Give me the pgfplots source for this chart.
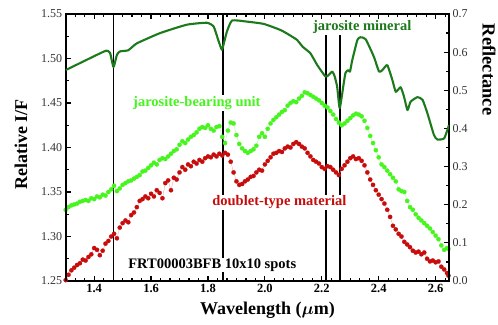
\documentclass[border=0pt]{standalone}
\usepackage{fontspec}
\setmainfont{Liberation Serif}
\usepackage{pgfplots}
\pgfplotsset{compat=1.18}
\definecolor{dkgreen}{RGB}{28,122,28}
\definecolor{ltgreen}{RGB}{70,245,30}
\definecolor{dred}{RGB}{200,12,12}
\begin{document}
\begin{tikzpicture}
\useasboundingbox (-65.7pt,-43pt) rectangle (432.3pt,281pt);
\begin{axis}[
  at={(0,0)}, anchor=south west,
  scale only axis, width=383.3pt, height=267pt,
  xmin=1.3, xmax=2.647, ymin=1.25, ymax=1.55,
  xtick={1.4,1.6,...,2.61},
  minor xtick={1.3333333,1.3666667,1.4333333,1.4666667,1.5,1.5333333,1.5666667,1.6333333,1.6666667,1.7,1.7333333,1.7666667,1.8333333,1.8666667,1.9,1.9333333,1.9666667,2.0333333,2.0666667,2.1,2.1333333,2.1666667,2.2333333,2.2666667,2.3,2.3333333,2.3666667,2.4333333,2.4666667,2.5,2.5333333,2.5666667,2.6333333},
  ytick={1.25,1.30,1.35,1.40,1.45,1.50,1.55},
  minor ytick={1.275,1.325,1.375,1.425,1.475,1.525},
  ytick pos=left, xtick pos=both,
  tick align=inside,
  major tick length=5pt, minor tick length=3.5pt,
  every tick/.style={black, line width=1.2pt},
  axis line style={line width=1.7pt},
  /pgf/number format/assume math mode=true,
  xticklabel style={font=\fontsize{12.5}{12.5}\selectfont\bfseries, /pgf/number format/.cd, fixed, fixed zerofill, precision=1},
  yticklabel style={font=\fontsize{12}{12}\selectfont, text=black!80, /pgf/number format/.cd, fixed, fixed zerofill, precision=2},
  clip=false,
]
% vertical band lines
\addplot[black, line width=1.8pt] coordinates {(1.468,1.25) (1.468,1.55)};
\addplot[black, line width=1.8pt] coordinates {(1.853,1.25) (1.853,1.55)};
\addplot[black, line width=1.8pt] coordinates {(2.214,1.25) (2.214,1.526)};
\addplot[black, line width=1.8pt] coordinates {(2.263,1.25) (2.263,1.526)};
% jarosite-bearing unit
\addplot[draw=ltgreen!45, line width=0.4pt, mark=*, mark size=2.15pt, mark options={draw=ltgreen, fill=ltgreen, line width=0.2pt}] coordinates {
(1.30,1.330) (1.31,1.333) (1.32,1.335) (1.33,1.336) (1.34,1.337) (1.35,1.339) (1.36,1.340) (1.37,1.341) (1.38,1.340) (1.39,1.343)
(1.40,1.342) (1.41,1.345) (1.42,1.344) (1.43,1.347) (1.44,1.346) (1.45,1.350) (1.46,1.353) (1.47,1.357) (1.48,1.351) (1.49,1.354)
(1.50,1.358) (1.51,1.360) (1.52,1.362) (1.53,1.363) (1.54,1.365) (1.55,1.367) (1.56,1.369) (1.57,1.373) (1.58,1.374) (1.59,1.377)
(1.60,1.380) (1.61,1.383) (1.62,1.381) (1.63,1.386) (1.64,1.388) (1.65,1.387) (1.66,1.390) (1.67,1.393) (1.68,1.396) (1.69,1.398)
(1.70,1.403) (1.71,1.407) (1.72,1.405) (1.73,1.409) (1.74,1.412) (1.75,1.414) (1.76,1.417) (1.77,1.421) (1.78,1.423) (1.79,1.422)
(1.80,1.425) (1.81,1.421) (1.82,1.419) (1.83,1.423) (1.84,1.424) (1.85,1.412) (1.86,1.405) (1.87,1.419) (1.88,1.428) (1.89,1.427)
(1.90,1.414) (1.91,1.404) (1.92,1.399) (1.93,1.396) (1.94,1.394) (1.95,1.396) (1.96,1.398) (1.97,1.402) (1.98,1.412) (1.99,1.416)
(2.00,1.412) (2.01,1.421) (2.02,1.427) (2.03,1.431) (2.04,1.434) (2.05,1.437) (2.06,1.440) (2.07,1.442) (2.08,1.447) (2.09,1.450)
(2.10,1.452) (2.11,1.451) (2.12,1.455) (2.13,1.458) (2.14,1.462) (2.15,1.461) (2.16,1.459) (2.17,1.457) (2.18,1.455) (2.19,1.453)
(2.20,1.450) (2.21,1.447) (2.22,1.445) (2.23,1.441) (2.24,1.437) (2.25,1.432) (2.26,1.428) (2.27,1.425) (2.28,1.427) (2.29,1.430)
(2.30,1.433) (2.31,1.436) (2.32,1.438) (2.33,1.437) (2.34,1.435) (2.35,1.430) (2.36,1.422) (2.37,1.413) (2.38,1.405) (2.39,1.397)
(2.40,1.389) (2.41,1.381) (2.42,1.378) (2.43,1.374) (2.44,1.370) (2.45,1.366) (2.46,1.362) (2.47,1.353) (2.48,1.351) (2.49,1.350)
(2.50,1.340) (2.51,1.333) (2.52,1.330) (2.53,1.325) (2.54,1.321) (2.55,1.318) (2.56,1.315) (2.57,1.312) (2.58,1.309) (2.59,1.305)
(2.60,1.301) (2.61,1.297) (2.62,1.290) (2.63,1.285) (2.64,1.287) (2.645,1.286)
};
% doublet-type material
\addplot[draw=dred!35, line width=0.4pt, mark=*, mark size=2.15pt, mark options={draw=dred, fill=dred, line width=0.2pt}] coordinates {
(1.30,1.251) (1.31,1.257) (1.32,1.262) (1.33,1.265) (1.34,1.268) (1.35,1.270) (1.36,1.274) (1.37,1.273) (1.38,1.277) (1.39,1.280)
(1.40,1.287) (1.41,1.285) (1.42,1.279) (1.43,1.284) (1.44,1.292) (1.45,1.295) (1.46,1.300) (1.47,1.303) (1.48,1.298) (1.49,1.310)
(1.50,1.315) (1.51,1.318) (1.52,1.316) (1.53,1.324) (1.54,1.327) (1.55,1.333) (1.56,1.340) (1.57,1.342) (1.58,1.345) (1.59,1.343)
(1.60,1.348) (1.61,1.345) (1.62,1.352) (1.63,1.349) (1.64,1.343) (1.65,1.360) (1.66,1.363) (1.67,1.352) (1.68,1.366) (1.69,1.364)
(1.70,1.372) (1.71,1.378) (1.72,1.375) (1.73,1.381) (1.74,1.379) (1.75,1.384) (1.76,1.382) (1.77,1.386) (1.78,1.384) (1.79,1.388)
(1.80,1.390) (1.81,1.389) (1.82,1.392) (1.83,1.390) (1.84,1.393) (1.85,1.391) (1.86,1.394) (1.87,1.392) (1.88,1.384) (1.89,1.372)
(1.90,1.362) (1.91,1.358) (1.92,1.359) (1.93,1.362) (1.94,1.364) (1.95,1.367) (1.96,1.368) (1.97,1.372) (1.98,1.375) (1.99,1.374)
(2.00,1.381) (2.01,1.385) (2.02,1.389) (2.03,1.393) (2.04,1.394) (2.05,1.396) (2.06,1.395) (2.07,1.399) (2.08,1.401) (2.09,1.400)
(2.10,1.404) (2.11,1.406) (2.12,1.404) (2.13,1.401) (2.14,1.399) (2.15,1.394) (2.16,1.390) (2.17,1.386) (2.18,1.384) (2.19,1.382)
(2.20,1.378) (2.21,1.376) (2.22,1.379) (2.23,1.378) (2.24,1.375) (2.25,1.372) (2.26,1.369) (2.27,1.376) (2.28,1.380) (2.29,1.384)
(2.30,1.388) (2.31,1.390) (2.32,1.387) (2.33,1.388) (2.34,1.385) (2.35,1.380) (2.36,1.372) (2.37,1.364) (2.38,1.358) (2.39,1.352)
(2.40,1.347) (2.41,1.342) (2.42,1.337) (2.43,1.330) (2.44,1.322) (2.45,1.312) (2.46,1.308) (2.47,1.303) (2.48,1.300) (2.49,1.294)
(2.50,1.291) (2.51,1.288) (2.52,1.284) (2.53,1.282) (2.54,1.283) (2.55,1.280) (2.56,1.282) (2.57,1.275) (2.58,1.272) (2.59,1.273)
(2.60,1.271) (2.61,1.272) (2.62,1.266) (2.63,1.263) (2.64,1.259) (2.645,1.256)
};
\node[font=\fontsize{14.5}{14.5}\selectfont\bfseries, text=ltgreen, fill=white, inner sep=1pt] at (axis cs:1.761,1.450) {jarosite-bearing unit};
\node[font=\fontsize{14.5}{14.5}\selectfont\bfseries, text=dred, fill=white, inner sep=1pt] at (axis cs:2.051,1.3385) {doublet-type material};
\node[font=\fontsize{14.5}{14.5}\selectfont\bfseries, text=black, fill=white, inner sep=1pt] at (axis cs:1.815,1.268) {FRT00003BFB 10x10 spots};
\node[font=\fontsize{14.5}{14.5}\selectfont\bfseries, text=dkgreen] at (axis cs:2.342,1.535) {jarosite mineral};
\end{axis}
\begin{axis}[
  at={(0,0)}, anchor=south west,
  scale only axis, width=383.3pt, height=267pt,
  xmin=1.3, xmax=2.647, ymin=0, ymax=0.7,
  hide x axis,
  ytick={0,0.1,...,0.71},
  minor ytick={0.05,0.15,0.25,0.35,0.45,0.55,0.65},
  ytick pos=right, yticklabel pos=right,
  tick align=inside,
  major tick length=5pt, minor tick length=3.5pt,
  every tick/.style={black, line width=1.2pt},
  axis line style={line width=1.7pt},
  /pgf/number format/assume math mode=true,
  yticklabel style={font=\fontsize{12}{12}\selectfont, text=black!80, /pgf/number format/.cd, fixed, fixed zerofill, precision=1},
]
\addplot[dkgreen, line width=2.1pt, line join=round, smooth, tension=0.3] coordinates {
(1.300,0.553) (1.421,0.597) (1.444,0.604) (1.456,0.598) (1.468,0.561) (1.480,0.593) (1.491,0.602) (1.520,0.605)
(1.550,0.623) (1.632,0.650) (1.726,0.672) (1.796,0.677) (1.820,0.667) (1.836,0.632) (1.849,0.606) (1.857,0.627)
(1.867,0.655) (1.885,0.683) (1.937,0.680) (1.996,0.674) (2.055,0.658) (2.086,0.645) (2.113,0.632) (2.133,0.614)
(2.160,0.597) (2.184,0.566) (2.213,0.536) (2.224,0.540) (2.237,0.549) (2.245,0.537) (2.254,0.509) (2.263,0.453)
(2.277,0.518) (2.283,0.545) (2.292,0.553) (2.299,0.549) (2.307,0.579) (2.325,0.632) (2.336,0.639) (2.354,0.634)
(2.383,0.588) (2.401,0.549) (2.413,0.553) (2.430,0.566) (2.448,0.527) (2.460,0.496) (2.477,0.508) (2.489,0.483)
(2.501,0.448) (2.512,0.470) (2.536,0.482) (2.554,0.475) (2.571,0.440) (2.594,0.383) (2.606,0.371) (2.630,0.374)
(2.647,0.409)
};
\end{axis}
\node[font=\fontsize{18}{18}\selectfont\bfseries, rotate=90] at (-44.7pt,136.5pt) {Relative I/F};
\node[font=\fontsize{18.5}{18.5}\selectfont\bfseries, rotate=-90] at (423.3pt,211.5pt) {Reflectance};
\node[font=\fontsize{18}{18}\selectfont\bfseries] at (201.8pt,-29pt) {Wavelength ({\boldmath$\mu$}m)};
\end{tikzpicture}
\end{document}
